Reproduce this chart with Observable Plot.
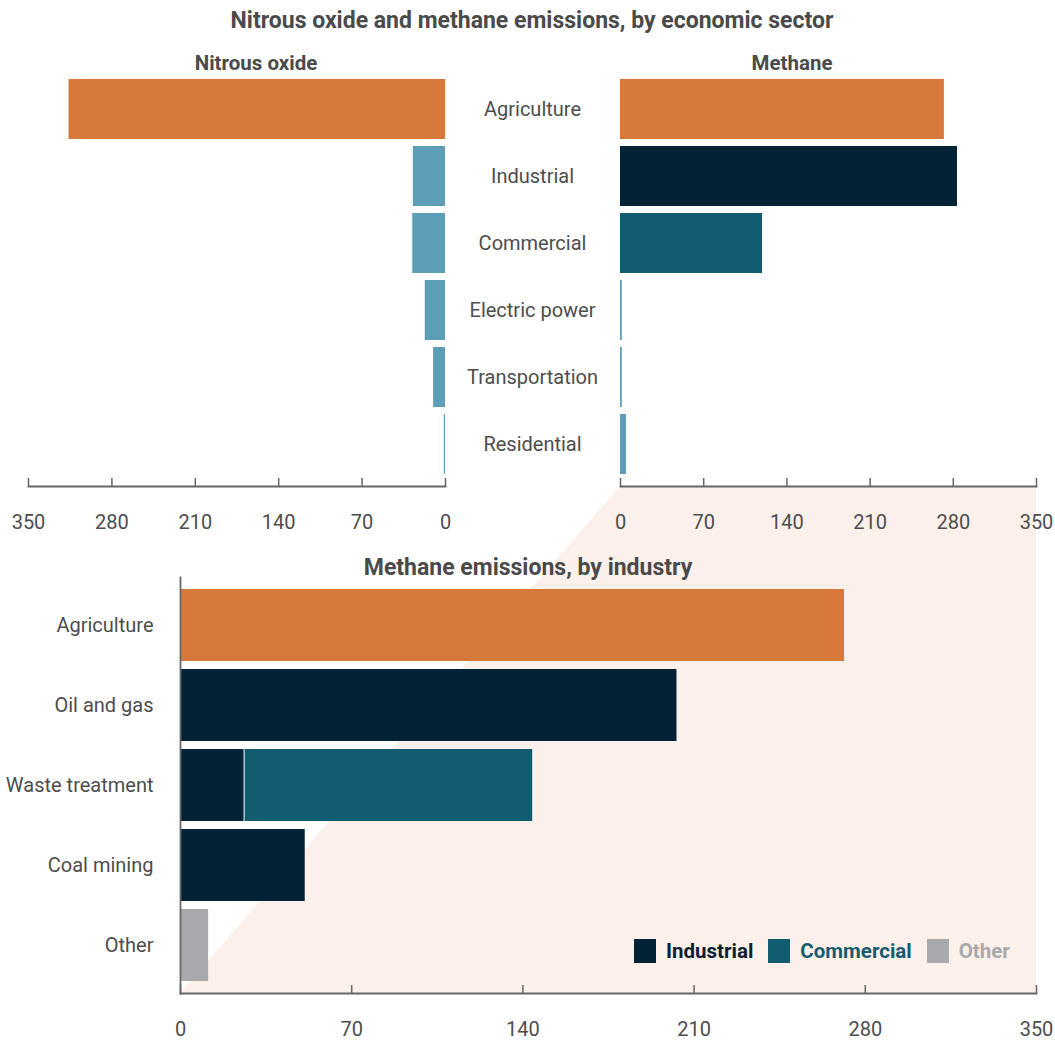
<!DOCTYPE html>
<html>
<head>
<meta charset="utf-8">
<script src="https://cdn.jsdelivr.net/npm/d3@7"></script>
<script src="https://cdn.jsdelivr.net/npm/@observablehq/plot@0.6"></script>
<style>
  html, body { margin: 0; padding: 0; background: #fff; }
  #figure { position: relative; width: 1055px; height: 1040px; font-family: Roboto, "Noto Sans", sans-serif; color: #4d4d4d; }
  #figure > svg { position: absolute; left: 0; top: 0; }
  .hd { position: absolute; font-weight: 700; color: #4a4a4a; white-space: nowrap; transform: translateX(-50%); }
  #legend { position: absolute; left: 634px; top: 939px; display: flex; align-items: center; font-weight: 700; font-size: 20.5px; }
  #legend .sw { width: 22px; height: 24px; margin-right: 10px; }
  #legend .it { display: flex; align-items: center; margin-right: 15px; }
</style>
</head>
<body>
<div id="figure">
  <div class="hd" style="left:532px; top:7px; font-size:23px;">Nitrous oxide and methane emissions, by economic sector</div>
  <div class="hd" style="left:256px; top:51px; font-size:20.5px;">Nitrous oxide</div>
  <div class="hd" style="left:792px; top:51px; font-size:20.5px;">Methane</div>
  <div class="hd" style="left:528px; top:554px; font-size:23px;">Methane emissions, by industry</div>
  <div id="legend"></div>
</div>
<script>
// Emissions by economic sector
const sectors = ["Agriculture", "Industrial", "Commercial", "Electric power", "Transportation", "Residential"];
const nitrousOxide = [316, 27, 27.5, 17, 10, 1];
const methane = [272.5, 283.5, 119.5, 1.5, 1.5, 5];

// Methane emissions by industry, split by economic sector
const industries = ["Agriculture", "Oil and gas", "Waste treatment", "Coal mining", "Other"];
const agricultureMethane = [271.5, 0, 0, 0, 0];
const industrialMethane = [0, 203, 26, 51, 0];
const commercialMethane = [0, 0, 118, 0, 0];
const otherMethane = [0, 0, 0, 0, 11.5];

const axisTicks = [0, 70, 140, 210, 280, 350];
const legendItems = ["Industrial", "Commercial", "Other"];

const ORANGE = "#d7793a", LIGHT = "#5e9db7", NAVY = "#022235", TEAL = "#115c71", GREY = "#a7a9ac", PEACH = "#fbf0ea";
const sourceColors = {Agriculture: ORANGE, Industrial: NAVY, Commercial: TEAL, Other: GREY};
const sectorColors = {Agriculture: ORANGE, Industrial: NAVY, Commercial: TEAL, "Electric power": LIGHT, Transportation: LIGHT, Residential: LIGHT};

const W = 1055;
const topH = 540, topAxisGap = 54;
const fig = document.getElementById("figure");
const style = {background: "transparent", fontFamily: "Roboto, 'Noto Sans', sans-serif", fontSize: "20px", color: "#4d4d4d", overflow: "visible"};

const sectorRows = sectors.map((s, i) => ({sector: s, n2o: nitrousOxide[i], ch4: methane[i]}));
const topY = {domain: sectors, range: [75.5, 478.5], paddingInner: 0.104, paddingOuter: 0.052};
const xAxis = () => Plot.axisX({ticks: axisTicks, tickSize: -8, tickPadding: 36, stroke: "#666", strokeWidth: 1.5, fill: "#4d4d4d", label: null, tickFormat: d3.format("d")});

// Nitrous oxide panel, mirrored so bars grow to the left
const n2oPlot = Plot.plot({
  width: W, height: topH,
  marginLeft: 28, marginRight: 610, marginTop: 70, marginBottom: topAxisGap,
  style,
  x: {domain: [0, 350], reverse: true},
  y: {...topY, axis: null},
  marks: [
    Plot.barX(sectorRows, {y: "sector", x: "n2o", fill: d => d.sector === "Agriculture" ? ORANGE : LIGHT}),
    Plot.frame({anchor: "bottom", stroke: "#666", strokeWidth: 1.8}),
    xAxis()
  ]
});

// Methane panel, with the sector names centred in the gap between panels
const ch4Plot = Plot.plot({
  width: W, height: topH,
  marginLeft: 620, marginRight: 19, marginTop: 70, marginBottom: topAxisGap,
  style,
  x: {domain: [0, 350]},
  y: {...topY},
  marks: [
    Plot.barX(sectorRows, {y: "sector", x: "ch4", fill: d => sectorColors[d.sector]}),
    Plot.frame({anchor: "bottom", stroke: "#666", strokeWidth: 1.8}),
    xAxis(),
    Plot.axisY({anchor: "left", tickSize: 0, tickPadding: 88, textAnchor: "middle", fill: "#4d4d4d", label: null})
  ]
});

// Stacked methane by industry
const industryRows = [];
industries.forEach((ind, i) => {
  [["Agriculture", agricultureMethane], ["Industrial", industrialMethane], ["Commercial", commercialMethane], ["Other", otherMethane]]
    .forEach(([source, values]) => { if (values[i] > 0) industryRows.push({industry: ind, source, value: values[i]}); });
});

const bottomPlot = Plot.plot({
  width: W, height: 1040,
  marginLeft: 180, marginRight: 19, marginTop: 577, marginBottom: 47,
  style,
  x: {domain: [0, 350]},
  y: {domain: industries, range: [584.2, 985.8], paddingInner: 0.095, paddingOuter: 0.0475},
  marks: [
    Plot.barX(industryRows, Plot.stackX({
      y: "industry", x: "value", order: ["Agriculture", "Industrial", "Commercial", "Other"],
      z: "source",
      fill: d => sourceColors[d.source],
      insetLeft: 1
    })),
    Plot.frame({anchor: "bottom", stroke: "#666", strokeWidth: 1.8}),
    Plot.frame({anchor: "left", stroke: "#666", strokeWidth: 1.8}),
    xAxis(),
    Plot.axisY({anchor: "left", tickSize: 0, tickPadding: 27, fill: "#4d4d4d", label: null})
  ]
});

// Shaded wedge linking the methane axis to the industry panel, from both x scales
const xTop = ch4Plot.scale("x"), xBot = bottomPlot.scale("x");
const topAxisY = topH - topAxisGap, botAxisY = 1040 - 47;
const wedge = [
  [xTop.apply(0), topAxisY], [xTop.apply(350), topAxisY],
  [xBot.apply(350), botAxisY], [xBot.apply(0), botAxisY]
];
d3.select(bottomPlot).insert("polygon", ":first-child")
  .attr("points", wedge.map(p => p.join(",")).join(" "))
  .attr("fill", PEACH);

fig.appendChild(bottomPlot);
fig.appendChild(n2oPlot);
fig.appendChild(ch4Plot);

// Legend
const textColors = {Industrial: "#0c2234", Commercial: "#1a5b70", Other: "#a7a9ac"};
const legend = d3.select("#legend");
legendItems.forEach(k => {
  const it = legend.append("div").attr("class", "it");
  it.append("div").attr("class", "sw").style("background", sourceColors[k]);
  it.append("span").style("color", textColors[k]).text(k);
});
document.querySelectorAll(".hd").forEach(el => fig.appendChild(el));
fig.appendChild(document.getElementById("legend"));
</script>
</body>
</html>
